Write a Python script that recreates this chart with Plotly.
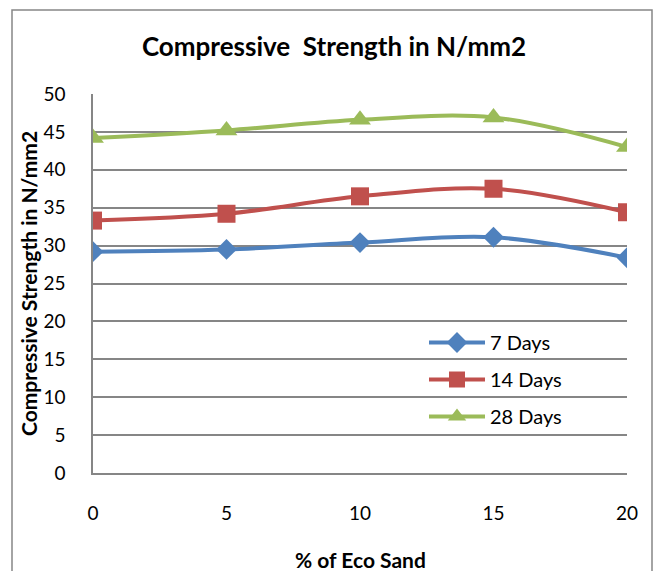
import plotly.graph_objects as go

eco_sand = [0, 5, 10, 15, 20]
days7 = [29.2, 29.5, 30.4, 31.1, 28.4]
days14 = [33.3, 34.2, 36.5, 37.5, 34.4]
days28 = [44.2, 45.2, 46.6, 46.9, 43.0]
series_names = ["7 Days", "14 Days", "28 Days"]
colors = ["#4F81BD", "#C0504D", "#9BBB59"]
symbols = ["diamond", "square", "triangle-up"]
sizes = [16, 18, 19]

FONT = "Lato"
fig = go.Figure()
for i, (name, vals) in enumerate(zip(series_names, [days7, days14, days28])):
    fig.add_trace(go.Scatter(
        x=eco_sand, y=vals, name=name, mode="lines+markers",
        line=dict(color=colors[i], width=4, shape="spline", smoothing=1),
        marker=dict(symbol=symbols[i], size=sizes[i], color=colors[i]),
        legendgroup=name,
    ))

L, R, T, B = 93, 30, 94, 98
W, H = 657, 571
pw, ph = W - L - R, H - T - B

fig.update_layout(
    width=W, height=H,
    margin=dict(l=L, r=R, t=T, b=B, autoexpand=False),
    paper_bgcolor="white", plot_bgcolor="white",
    font=dict(family=FONT, color="black", size=18),
    title=dict(text="<b>Compressive  Strength in N/mm2</b>", x=334 / W, xanchor="center",
               y=1 - 47 / H, yanchor="middle", font=dict(size=26, family=FONT)),
    xaxis=dict(range=[0, 20], tickvals=eco_sand, showgrid=False, zeroline=False,
               showline=True, linecolor="#868686", linewidth=1.5, automargin=False,
               ticks="", tickfont=dict(size=19), ticklabelstandoff=22),
    yaxis=dict(range=[0, 50], dtick=5, showgrid=True, gridcolor="#868686", gridwidth=1.5,
               zeroline=False, showline=True, linecolor="#868686", linewidth=1.5, automargin=False,
               ticks="", tickfont=dict(size=19), ticklabelstandoff=22),
    legend=dict(x=(424 - L) / pw, y=(H - B - 323) / ph, xanchor="left", yanchor="top",
                bgcolor="rgba(0,0,0,0)", font=dict(size=20), tracegroupgap=8,
                traceorder="grouped", itemwidth=56),
    showlegend=True,
    annotations=[
        dict(text="<b>Compressive Strength in N/mm2</b>", xref="paper", yref="paper",
             x=(28 - L) / pw, y=(H - B - 284) / ph, xanchor="center", yanchor="middle",
             textangle=-90, showarrow=False, font=dict(size=21)),
        dict(text="<b>% of Eco Sand</b>", xref="paper", yref="paper",
             x=(360 - L) / pw, y=(H - B - 559) / ph, xanchor="center", yanchor="middle",
             showarrow=False, font=dict(size=21)),
    ],
    shapes=[dict(type="rect", xref="paper", yref="paper",
                 x0=(12 - L) / pw, x1=(652 - L) / pw,
                 y0=(H - B - 590) / ph, y1=(H - B - 10) / ph,
                 line=dict(color="#868686", width=1.5), fillcolor="rgba(0,0,0,0)", layer="below")],
)

fig.write_html("out.html")
